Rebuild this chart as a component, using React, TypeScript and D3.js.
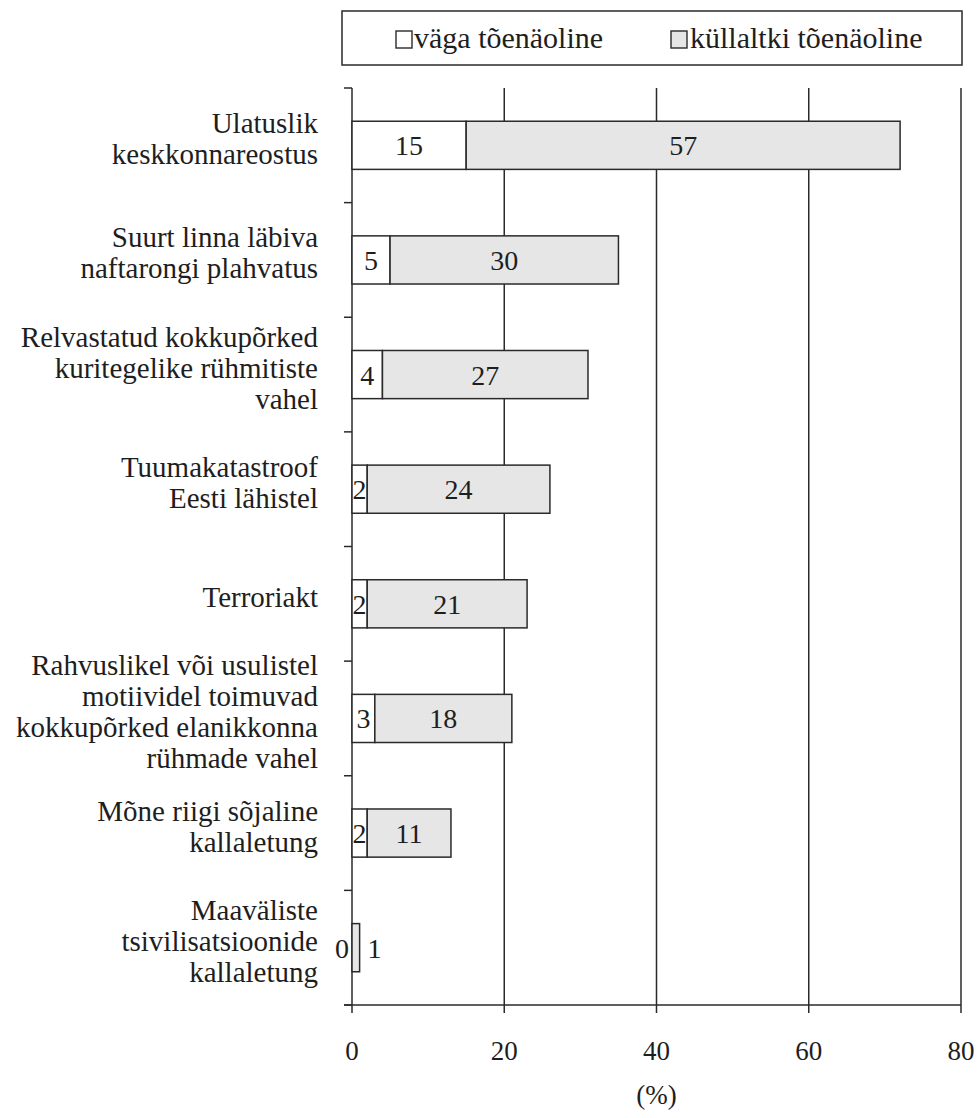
import React from "react";
import * as d3 from "d3";

const categories: string[][] = [
  ["Ulatuslik", "keskkonnareostus"],
  ["Suurt linna läbiva", "naftarongi plahvatus"],
  ["Relvastatud kokkupõrked", "kuritegelike rühmitiste", "vahel"],
  ["Tuumakatastroof", "Eesti lähistel"],
  ["Terroriakt"],
  ["Rahvuslikel või usulistel", "motiividel toimuvad", "kokkupõrked elanikkonna", "rühmade vahel"],
  ["Mõne riigi sõjaline", "kallaletung"],
  ["Maaväliste", "tsivilisatsioonide", "kallaletung"],
];
const vagaValues = [15, 5, 4, 2, 2, 3, 2, 0];
const kullaltkiValues = [57, 30, 27, 24, 21, 18, 11, 1];
const xTicks = [0, 20, 40, 60, 80];
const legendLabels = ["väga tõenäoline", "küllaltki tõenäoline"];
const axisTitle = "(%)";

const W = 979;
const H = 1118;
const FONT = "'Liberation Serif', 'Times New Roman', serif";
const INK = "#2a2a2a";
const TXT = "#1e1e1e";
const GRAY = "#e6e6e6";

export default function App() {
  const x = d3.scaleLinear().domain([0, 80]).range([352, 961]);
  const ids = categories.map((_, i) => String(i));
  const y = d3.scaleBand<string>().domain(ids).range([88, 1005]).paddingInner(0.58).paddingOuter(0.29);
  const step = y.step();
  const top = 88;
  const bottom = 1005;
  const fsLabel = 29;
  const fsVal = 28;
  const fsTick = 27;
  const fsLeg = 30;
  const lh = 31;

  return (
    <svg width={W} height={H} style={{ position: "absolute", left: 0, top: 0, background: "#fff" }} fontFamily={FONT}>
      {/* legend */}
      <rect x={342} y={11} width={620} height={54} fill="#fff" stroke={INK} strokeWidth={1.5} />
      <rect x={396} y={31} width={16} height={17} fill="#fff" stroke={INK} strokeWidth={1.4} />
      <text x={414} y={48} fontSize={fsLeg} fill={TXT}>{legendLabels[0]}</text>
      <rect x={671} y={31} width={16} height={17} fill={GRAY} stroke={INK} strokeWidth={1.4} />
      <text x={690} y={48} fontSize={fsLeg} fill={TXT}>{legendLabels[1]}</text>

      {/* gridlines */}
      {xTicks.slice(1).map((t) => (
        <line key={"g" + t} x1={x(t)} x2={x(t)} y1={top} y2={bottom + 8} stroke={INK} strokeWidth={1.5} />
      ))}
      {/* y axis */}
      <line x1={x(0)} x2={x(0)} y1={top} y2={bottom + 8} stroke={INK} strokeWidth={1.5} />
      {d3.range(categories.length + 1).map((i) => (
        <line key={"yt" + i} x1={x(0) - 8} x2={x(0)} y1={top + i * step} y2={top + i * step} stroke={INK} strokeWidth={1.5} />
      ))}
      {/* x axis */}
      <line x1={x(0) - 8} x2={x(80)} y1={bottom} y2={bottom} stroke={INK} strokeWidth={1.5} />
      {xTicks.map((t) => (
        <text key={"xl" + t} x={x(t)} y={1060} fontSize={fsTick} textAnchor="middle" fill={TXT}>{t}</text>
      ))}
      <text x={x(40)} y={1104} fontSize={fsTick} textAnchor="middle" fill={TXT}>{axisTitle}</text>

      {/* bars */}
      {categories.map((lines, i) => {
        const yb = y(ids[i])!;
        const bh = y.bandwidth();
        const cy = yb + bh / 2;
        const v1 = vagaValues[i];
        const v2 = kullaltkiValues[i];
        const isTiny = v2 + v1 <= 2;
        return (
          <g key={"b" + i}>
            <rect x={x(0)} y={yb} width={x(v1) - x(0)} height={bh} fill="#fff" stroke={INK} strokeWidth={1.5} />
            <rect x={x(v1)} y={yb} width={x(v1 + v2) - x(v1)} height={bh} fill={GRAY} stroke={INK} strokeWidth={1.5} />
            {isTiny ? (
              <>
                <text x={x(0) - 10} y={cy + 10} fontSize={fsVal} textAnchor="middle" fill={TXT}>{v1}</text>
                <text x={x(v1 + v2) + 15} y={cy + 10} fontSize={fsVal} textAnchor="middle" fill={TXT}>{v2}</text>
              </>
            ) : (
              <>
                <text x={(x(0) + x(v1)) / 2} y={cy + 10} fontSize={fsVal} textAnchor="middle" fill={TXT}>{v1}</text>
                <text x={(x(v1) + x(v1 + v2)) / 2} y={cy + 10} fontSize={fsVal} textAnchor="middle" fill={TXT}>{v2}</text>
              </>
            )}
            {lines.map((ln, j) => (
              <text
                key={j}
                x={318}
                y={cy + (j - (lines.length - 1) / 2) * lh + 3}
                fontSize={fsLabel}
                textAnchor="end"
                fill={TXT}
              >
                {ln}
              </text>
            ))}
          </g>
        );
      })}
    </svg>
  );
}
